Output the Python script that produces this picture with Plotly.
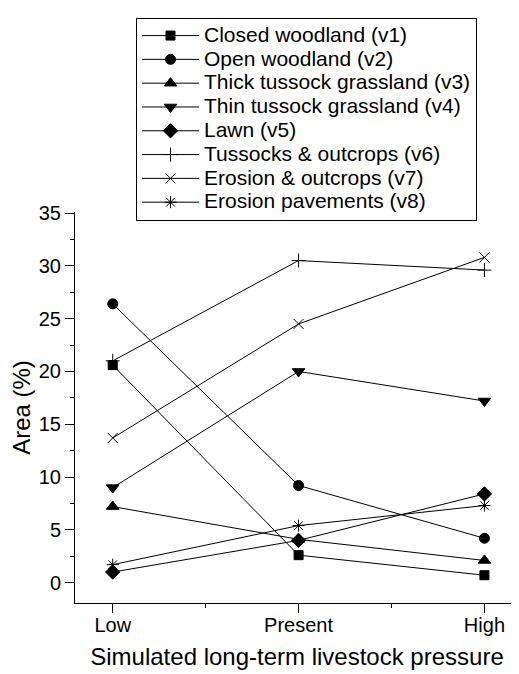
import plotly.graph_objects as go

categories = ["Low", "Present", "High"]
series_names = [
    "Closed woodland (v1)",
    "Open woodland (v2)",
    "Thick tussock grassland (v3)",
    "Thin tussock grassland (v4)",
    "Lawn (v5)",
    "Tussocks & outcrops (v6)",
    "Erosion & outcrops (v7)",
    "Erosion pavements (v8)",
]
v1 = [20.6, 2.6, 0.7]
v2 = [26.4, 9.2, 4.2]
v3 = [7.2, 4.1, 2.1]
v4 = [9.0, 20.0, 17.2]
v5 = [1.0, 4.0, 8.4]
v6 = [21.0, 30.5, 29.6]
v7 = [13.7, 24.5, 30.8]
v8 = [1.7, 5.4, 7.3]
values = [v1, v2, v3, v4, v5, v6, v7, v8]

symbols = ["square", "circle", "triangle-up", "triangle-down", "diamond",
           "cross-thin-open", "x-thin-open", "asterisk-open"]
sizes = [9, 10, 11, 11, 11, 10, 10, 10]

xpos = list(range(len(categories)))
FONT = "Liberation Sans, Arial, Helvetica, sans-serif"

fig = go.Figure()
for name, vals, sym, sz in zip(series_names, values, symbols, sizes):
    fig.add_trace(go.Scatter(
        x=xpos, y=vals, mode="lines+markers",
        name='<span style="font-size:21px">' + name + '</span>',
        line=dict(color="black", width=1),
        marker=dict(symbol=sym, size=sz, color="black",
                    line=dict(color="black", width=1)),
    ))

# the page body has an 8px default margin, so the figure is drawn 8px in
fig.update_layout(
    width=511, height=666,
    margin=dict(l=67, r=0, t=204, b=71),
    paper_bgcolor="white", plot_bgcolor="white",
    font=dict(family=FONT, color="black", size=20),
    showlegend=True,
    legend=dict(
        x=0.1374, y=1.497, xanchor="left", yanchor="top",
        bordercolor="black", borderwidth=1, bgcolor="white",
        font=dict(family=FONT, size=16, color="black"),
        itemwidth=57, tracegroupgap=0,
    ),
)
fig.update_xaxes(
    range=[-0.203, 2.186],
    tickvals=xpos, ticktext=categories,
    showline=True, linecolor="black", linewidth=1,
    ticks="outside", ticklen=9, tickcolor="black",
    showgrid=False, zeroline=False,
    minor=dict(tickvals=[0.5, 1.5], ticks="outside", ticklen=4, tickcolor="black"),
    ticklabelstandoff=-5,
    title=dict(text="Simulated long-term livestock pressure",
               font=dict(size=24), standoff=13),
    tickfont=dict(size=20),
)
fig.update_yaxes(
    range=[-1.93, 35.1],
    tickvals=[0, 5, 10, 15, 20, 25, 30, 35],
    showline=True, linecolor="black", linewidth=1,
    ticks="outside", ticklen=9, tickcolor="black",
    showgrid=False, zeroline=False,
    minor=dict(dtick=2.5, tick0=0, ticks="outside", ticklen=4, tickcolor="black", showgrid=False),
    title=dict(text="Area (%)", font=dict(size=24), standoff=2),
    tickfont=dict(size=20),
)

fig.write_html("out.html")
